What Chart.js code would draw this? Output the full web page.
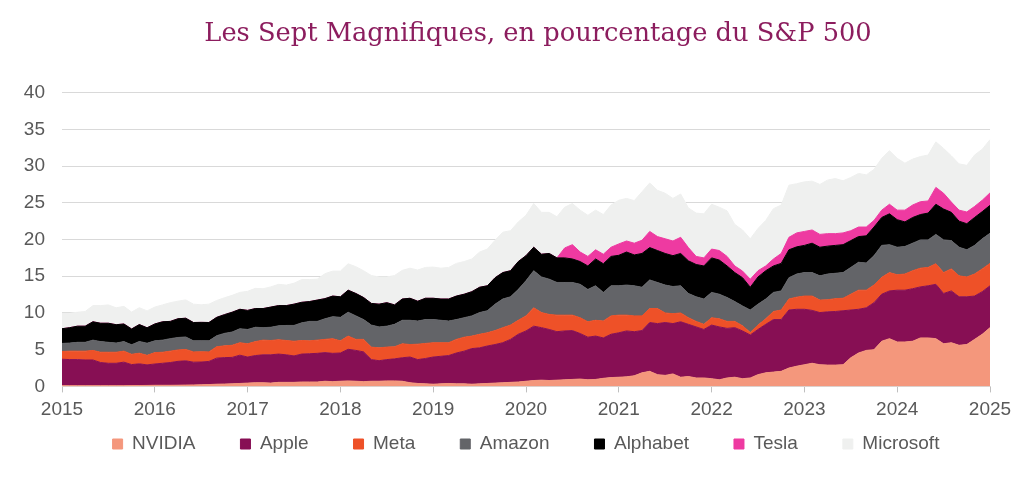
<!DOCTYPE html>
<html>
<head>
<meta charset="utf-8">
<script src="https://cdn.jsdelivr.net/npm/chart.js@4.4.1/dist/chart.umd.min.js"></script>
<style>
  html, body { margin: 0; padding: 0; background: #fff; }
  #wrap { width: 1024px; height: 488px; }
</style>
</head>
<body>
<div id="wrap"><canvas id="chart" width="1024" height="488"></canvas></div>
<script>
// poids en % du S&P 500, une valeur par mois, de janv. 2015 a janv. 2025
var yearLabels = ['2015', '2016', '2017', '2018', '2019', '2020', '2021', '2022', '2023', '2024', '2025'];

var nvidia = [
  0.1, 0.1, 0.1, 0.1, 0.1, 0.1, 0.1, 0.1, 0.1, 0.12, 0.12, 0.13,
  0.15, 0.15, 0.15, 0.16, 0.18, 0.2, 0.22, 0.25, 0.3, 0.32, 0.35, 0.4,
  0.45, 0.5, 0.5, 0.45, 0.55, 0.55, 0.55, 0.6, 0.6, 0.6, 0.7, 0.65,
  0.7, 0.75, 0.7, 0.65, 0.7, 0.7, 0.75, 0.75, 0.7, 0.5, 0.4, 0.35,
  0.3, 0.35, 0.4, 0.35, 0.35, 0.3, 0.35, 0.4, 0.45, 0.5, 0.55, 0.6,
  0.7, 0.8, 0.85, 0.8, 0.85, 0.9, 0.95, 1.0, 0.9, 0.95, 1.1, 1.2,
  1.25, 1.3, 1.45, 1.85, 2.05, 1.6, 1.5, 1.7, 1.25, 1.35, 1.15, 1.15,
  1.05, 0.9, 1.15, 1.25, 1.05, 1.15, 1.6, 1.85, 1.95, 2.05, 2.5, 2.75,
  2.95, 3.15, 2.95, 2.9, 2.9, 2.95, 3.9, 4.55, 4.9, 5.0, 6.15, 6.5,
  6.05, 6.05, 6.15, 6.6, 6.6, 6.5, 5.8, 5.95, 5.6, 5.7, 6.4, 7.1,
  8.0
];
var apple = [
  3.6, 3.55, 3.55, 3.5, 3.5, 3.15, 3.05, 3.05, 3.2, 2.85, 2.95, 2.8,
  2.9, 3.0, 3.1, 3.25, 3.3, 3.1, 3.1, 3.15, 3.55, 3.6, 3.6, 3.85,
  3.55, 3.7, 3.8, 3.85, 3.85, 3.75, 3.6, 3.8, 3.85, 3.9, 3.9, 3.85,
  3.85, 4.3, 4.2, 4.05, 2.95, 2.8, 2.9, 3.0, 3.2, 3.5, 3.25, 3.45,
  3.7, 3.75, 3.8, 4.2, 4.45, 4.85, 4.9, 5.1, 5.25, 5.45, 5.85, 6.5,
  6.85, 7.4, 7.15, 6.95, 6.6, 6.65, 6.65, 6.2, 5.8, 5.9, 5.5, 5.9,
  6.05, 6.25, 6.0, 5.75, 6.65, 6.95, 7.2, 6.85, 7.55, 7.1, 6.95, 6.6,
  7.3, 7.2, 6.75, 6.75, 6.5, 5.85, 6.15, 6.6, 7.15, 7.05, 7.9, 7.75,
  7.55, 7.2, 7.1, 7.25, 7.3, 7.35, 6.5, 5.95, 5.8, 6.4, 6.4, 6.5,
  7.05, 7.05, 7.15, 6.95, 7.1, 7.4, 6.85, 7.05, 6.6, 6.5, 5.9, 5.8,
  5.7
];
var meta = [
  1.05, 1.15, 1.15, 1.2, 1.3, 1.4, 1.5, 1.5, 1.5, 1.4, 1.45, 1.3,
  1.55, 1.5, 1.55, 1.55, 1.55, 1.4, 1.4, 1.3, 1.55, 1.6, 1.65, 1.7,
  1.8, 1.9, 2.0, 1.95, 1.95, 1.95, 2.0, 1.85, 1.75, 1.8, 1.8, 2.0,
  1.65, 1.8, 1.5, 1.7, 1.7, 1.75, 1.7, 1.65, 1.9, 1.7, 2.1, 2.05,
  1.95, 1.85, 1.75, 1.85, 1.9, 1.7, 1.85, 1.8, 1.9, 2.05, 1.95, 1.9,
  2.05, 2.5, 2.05, 2.05, 2.25, 2.15, 2.1, 2.15, 2.1, 2.15, 2.3, 2.5,
  2.4, 2.15, 2.15, 2.0, 1.9, 2.05, 1.3, 1.35, 1.2, 0.9, 0.75, 0.7,
  1.0, 1.1, 0.95, 0.85, 0.7, 0.35, 0.6, 0.75, 1.1, 1.3, 1.5, 1.65,
  1.8, 1.95, 1.7, 1.65, 1.75, 1.7, 2.15, 2.6, 2.4, 2.4, 2.3, 2.5,
  2.1, 2.2, 2.45, 2.55, 2.5, 2.8, 2.85, 3.0, 2.85, 2.7, 3.0, 3.1,
  3.05
];
var amazon = [
  1.1, 1.1, 1.2, 1.2, 1.4, 1.45, 1.35, 1.25, 1.3, 1.3, 1.6, 1.65,
  1.6, 1.65, 1.7, 1.7, 1.7, 1.5, 1.5, 1.5, 1.5, 1.7, 1.8, 1.9,
  1.95, 1.95, 1.7, 1.8, 1.9, 2.05, 2.15, 2.4, 2.65, 2.55, 2.8, 3.0,
  3.2, 3.25, 3.2, 2.7, 3.0, 2.85, 2.85, 3.05, 3.2, 3.3, 3.15, 3.25,
  3.15, 3.05, 2.95, 2.7, 2.65, 2.75, 2.95, 3.0, 3.6, 3.9, 3.85, 4.2,
  4.8, 5.05, 4.85, 4.8, 4.45, 4.45, 4.45, 4.55, 4.4, 4.7, 3.9, 4.1,
  4.0, 4.1, 4.1, 3.9, 3.9, 3.55, 3.8, 3.7, 3.7, 3.3, 3.35, 3.45,
  3.45, 3.35, 3.25, 2.7, 2.7, 3.05, 2.85, 2.7, 2.6, 2.6, 2.9, 3.15,
  3.2, 3.2, 3.3, 3.5, 3.45, 3.5, 3.65, 3.8, 3.7, 4.0, 4.35, 3.8,
  3.75, 3.75, 3.75, 3.85, 3.75, 4.0, 4.45, 3.85, 3.9, 3.7, 3.9, 4.1,
  4.1
];
var alphabet = [
  2.0, 2.1, 2.2, 2.2, 2.5, 2.5, 2.6, 2.5, 2.4, 2.15, 2.3, 2.1,
  2.3, 2.5, 2.35, 2.55, 2.55, 2.5, 2.5, 2.5, 2.5, 2.55, 2.7, 2.65,
  2.6, 2.55, 2.6, 2.75, 2.75, 2.7, 2.9, 2.8, 2.7, 2.9, 2.75, 2.8,
  2.8, 3.0, 3.05, 3.0, 2.95, 3.1, 3.2, 2.65, 2.9, 3.0, 2.7, 2.9,
  2.9, 2.9, 3.0, 3.2, 3.2, 3.3, 3.45, 3.4, 3.6, 3.6, 3.55, 3.8,
  3.4, 3.2, 3.1, 3.5, 3.35, 3.35, 3.2, 3.1, 3.2, 3.65, 3.9, 4.0,
  4.15, 4.5, 4.2, 4.6, 4.4, 4.35, 4.3, 4.2, 4.4, 4.45, 4.4, 4.5,
  4.7, 4.65, 4.3, 3.95, 3.85, 3.1, 3.7, 3.85, 3.6, 3.75, 3.8, 3.7,
  3.7, 4.0, 3.9, 3.8, 3.8, 3.8, 3.65, 3.5, 3.7, 3.9, 3.8, 4.2,
  3.75, 3.35, 3.5, 3.45, 3.65, 4.1, 4.2, 3.85, 3.55, 3.55, 3.8, 3.7,
  3.8
];
var tesla = [
  0, 0, 0, 0, 0, 0, 0, 0, 0, 0, 0, 0,
  0, 0, 0, 0, 0, 0, 0, 0, 0, 0, 0, 0,
  0, 0, 0, 0, 0, 0, 0, 0, 0, 0, 0, 0,
  0, 0, 0, 0, 0, 0, 0, 0, 0, 0, 0, 0,
  0, 0, 0, 0, 0, 0, 0, 0, 0, 0, 0, 0,
  0, 0, 0, 0, 0, 1.35, 1.95, 1.3, 1.3, 1.25, 1.3, 1.25,
  1.55, 1.5, 1.6, 1.8, 2.2, 1.9, 2.0, 2.0, 2.2, 1.8, 1.1, 1.1,
  1.2, 1.3, 1.3, 0.9, 0.9, 1.1, 0.85, 0.65, 0.95, 1.35, 1.7, 1.9,
  1.9, 1.8, 1.75, 1.7, 1.6, 1.6, 1.35, 1.3, 1.2, 0.9, 1.0, 1.3,
  1.3, 1.6, 1.7, 1.75, 1.65, 2.3, 2.15, 1.4, 1.5, 1.6, 1.5, 1.55,
  1.7
];
var microsoft = [
  2.1, 1.95, 1.9, 2.0, 2.2, 2.4, 2.5, 2.3, 2.4, 2.3, 2.3, 2.3,
  2.3, 2.3, 2.55, 2.4, 2.5, 2.5, 2.4, 2.5, 2.3, 2.3, 2.3, 2.3,
  2.6, 2.75, 2.7, 2.75, 2.9, 2.8, 2.85, 3.1, 3.0, 2.85, 3.4, 3.4,
  3.5, 3.6, 3.65, 3.65, 3.8, 3.7, 3.5, 4.0, 3.9, 4.1, 4.25, 4.2,
  4.25, 4.2, 4.3, 4.45, 4.45, 4.45, 4.8, 5.0, 5.1, 5.5, 5.45, 5.4,
  5.5, 5.95, 5.7, 5.6, 5.6, 5.55, 5.6, 5.7, 5.6, 5.4, 5.4, 5.75,
  5.95, 5.8, 5.8, 6.6, 6.6, 6.3, 6.2, 5.8, 5.9, 5.4, 5.9, 6.0,
  6.1, 5.9, 6.2, 5.65, 5.6, 5.5, 5.75, 6.2, 6.85, 6.6, 7.1, 6.7,
  6.75, 6.65, 6.8, 7.3, 7.5, 7.1, 7.25, 7.3, 7.1, 6.95, 7.05, 7.3,
  7.05, 6.4, 6.25, 6.15, 6.25, 6.2, 6.1, 6.3, 6.3, 6.35, 7.0, 6.95,
  7.25
];

var seriesNames = ['NVIDIA', 'Apple', 'Meta', 'Amazon', 'Alphabet', 'Tesla', 'Microsoft'];
var seriesData = [nvidia, apple, meta, amazon, alphabet, tesla, microsoft];
var seriesColors = ['#f4977c', '#870f54', '#ee5128', '#636468', '#000000', '#ee3aa1', '#eff0ef'];

// un libelle par mois, seul janvier porte l'annee sur l'axe
var monthLabels = [];
for (var y = 2015; y <= 2025; y++) {
  for (var m = 1; m <= 12; m++) {
    if (y === 2025 && m > 1) break;
    monthLabels.push(y + '-' + (m < 10 ? '0' + m : m));
  }
}

var datasets = [];
for (var i = 0; i < seriesNames.length; i++) {
  datasets.push({
    label: seriesNames[i],
    data: seriesData[i],
    backgroundColor: seriesColors[i],
    borderColor: seriesColors[i],
    borderWidth: 1,
    pointRadius: 0,
    tension: 0,
    fill: i === 0 ? 'origin' : '-1'
  });
}

// remonte la legende juste sous les annees (le padding large l'aurait poussee trop bas)
// et decale un peu le titre vers la droite comme sur l'original
var layoutFix = {
  id: 'layoutFix',
  afterLayout: function (chart) {
    var lg = chart.legend;
    var h = 74;
    lg.top = 389.5;
    lg.bottom = lg.top + h;
    lg.height = h;
    var tb = chart.titleBlock;
    tb.left += 12;
    tb.right += 12;
  }
};

var tickFont = { family: 'Liberation Sans', size: 19 };

new Chart(document.getElementById('chart'), {
  type: 'line',
  data: { labels: monthLabels, datasets: datasets },
  plugins: [layoutFix],
  options: {
    responsive: false,
    animation: false,
    layout: { padding: { left: 0, right: 34, top: 0, bottom: 21.6 } },
    plugins: {
      title: {
        display: true,
        fullSize: false,
        text: 'Les Sept Magnifiques, en pourcentage du S&P 500',
        color: '#8c1d5e',
        font: { family: 'DejaVu Serif', size: 25.7, weight: 'normal' },
        padding: { top: 18.6, bottom: 43.2 }
      },
      legend: {
        position: 'bottom',
        fullSize: false,
        maxHeight: 40,
        labels: {
          boxWidth: 10,
          boxHeight: 10,
          padding: 45,
          color: '#595959',
          font: { family: 'Liberation Sans', size: 19 }
        }
      },
      tooltip: { enabled: false }
    },
    scales: {
      x: {
        grid: {
          drawOnChartArea: false,
          tickLength: 6,
          color: function (ctx) { return ctx.index % 12 === 0 ? '#bfbfbf' : 'rgba(0,0,0,0)'; }
        },
        border: { color: '#d9d9d9' },
        ticks: {
          autoSkip: false,
          maxRotation: 0,
          minRotation: 0,
          padding: 5.6,
          color: '#595959',
          font: tickFont,
          callback: function (value, index) {
            return index % 12 === 0 ? yearLabels[index / 12] : '';
          }
        }
      },
      y: {
        stacked: true,
        min: 0,
        max: 40,
        ticks: { stepSize: 5, padding: 17, color: '#595959', font: tickFont },
        grid: { color: '#d9d9d9', drawTicks: false },
        border: { display: false },
        afterFit: function (scale) { scale.width = 62; }
      }
    }
  }
});
</script>
</body>
</html>
